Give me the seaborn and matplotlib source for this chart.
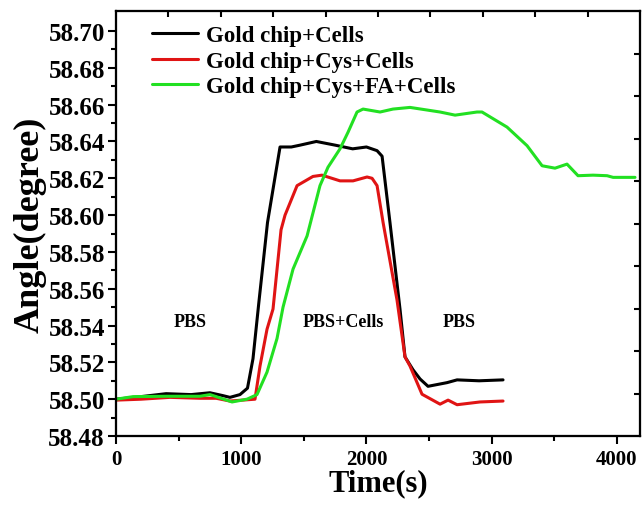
# SPR angle vs time
import pandas as pd
import matplotlib
matplotlib.use('Agg')
import matplotlib.pyplot as plt
import seaborn as sns

sns.set_style("ticks")
plt.rcParams['font.family'] = ['Liberation Serif', 'DejaVu Serif']
plt.rcParams['font.weight'] = 'bold'
for k in ['text.color', 'axes.labelcolor', 'xtick.color', 'ytick.color', 'axes.edgecolor']:
    plt.rcParams[k] = 'black'

# data
labels = ['Gold chip+Cells', 'Gold chip+Cys+Cells', 'Gold chip+Cys+FA+Cells']
colors = ['#000000', '#e01414', '#22e022']

t_black = [0, 150, 400, 600, 750, 850, 910, 990, 1050, 1094, 1140, 1210, 1310, 1400,
           1470, 1600, 1750, 1890, 2000, 2085, 2125, 2188, 2268, 2308, 2372, 2428,
           2492, 2644, 2724, 2900, 3091]
a_black = [58.500, 58.501, 58.503, 58.5025, 58.5035, 58.502, 58.501, 58.5025, 58.506,
           58.522, 58.552, 58.596, 58.637, 58.637, 58.638, 58.640, 58.638, 58.636,
           58.637, 58.635, 58.632, 58.596, 58.549, 58.523, 58.516, 58.511, 58.507,
           58.509, 58.5105, 58.510, 58.5105]

t_red = [0, 200, 431, 671, 800, 910, 1110, 1150, 1206, 1254, 1318, 1350, 1446, 1573,
         1645, 1789, 1893, 2005, 2045, 2085, 2133, 2244, 2308, 2348, 2444, 2588, 2652,
         2724, 2907, 3091]
a_red = [58.4995, 58.500, 58.501, 58.5005, 58.5005, 58.499, 58.500, 58.518, 58.538,
         58.549, 58.592, 58.600, 58.616, 58.621, 58.6217, 58.6186, 58.6186, 58.6207,
         58.620, 58.616, 58.596, 58.554, 58.523, 58.518, 58.5027, 58.4973, 58.4995,
         58.497, 58.4985, 58.499]

t_green = [0, 136, 407, 671, 751, 927, 1046, 1126, 1206, 1286, 1334, 1414, 1526, 1629,
           1693, 1789, 1853, 1925, 1973, 2109, 2212, 2348, 2588, 2708, 2883, 2923, 3123,
           3283, 3403, 3506, 3602, 3690, 3810, 3922, 3970, 4145]
a_green = [58.500, 58.5014, 58.5016, 58.5016, 58.5025, 58.4985, 58.500, 58.5025, 58.5147,
           58.533, 58.550, 58.5707, 58.5887, 58.616, 58.626, 58.636, 58.645, 58.656,
           58.6576, 58.656, 58.6576, 58.6585, 58.656, 58.6543, 58.656, 58.656, 58.6478,
           58.6377, 58.6268, 58.6255, 58.6277, 58.6214, 58.6217, 58.6214, 58.6205, 58.6205]

frames = []
for lab, t, a in zip(labels, [t_black, t_red, t_green], [a_black, a_red, a_green]):
    frames.append(pd.DataFrame({'time': t, 'angle': a, 'sample': lab}))
df = pd.concat(frames, ignore_index=True)

fig = plt.figure(figsize=(6.42, 5.10), dpi=100)
ax = fig.add_axes([0.1807, 0.1431, 0.8162, 0.8324])

sns.lineplot(data=df, x='time', y='angle', hue='sample', palette=colors,
             hue_order=labels, linewidth=2.2, sort=False, ax=ax)

ax.set_xlim(0, 4185)
ax.set_ylim(58.48, 58.7106)
ax.set_xticks([0, 1000, 2000, 3000, 4000])
ax.set_xticks([500, 1500, 2500, 3500], minor=True)
yt = [58.48 + 0.02 * i for i in range(12)]
ax.set_yticks(yt)
ax.set_yticklabels([f'{v:.2f}' for v in yt])
ax.set_yticks([58.49 + 0.02 * i for i in range(11)], minor=True)
ax.tick_params(axis='both', which='major', direction='out', length=6, width=1.5)
ax.tick_params(axis='both', which='minor', direction='out', length=3.5, width=1.5)
ax.tick_params(axis='x', which='major', labelsize=15, pad=3)
ax.tick_params(axis='y', which='major', labelsize=18, pad=2)
for lbl in ax.get_xticklabels() + ax.get_yticklabels():
    lbl.set_fontweight('bold')
for s in ax.spines.values():
    s.set_linewidth(1.5)
    s.set_visible(True)

ax.set_xlabel('Time(s)', fontsize=22, fontweight='bold', labelpad=0)
ax.set_ylabel('Angle(degree)', fontsize=26, fontweight='bold', labelpad=1)

# right and top axes: inward ticks only
axr = ax.twinx()
axr.set_ylim(0, 10)
axr.set_yticks(range(1, 10))
axr.tick_params(axis='y', direction='in', length=4, width=1.5, labelright=False)
axt = ax.twiny()
axt.set_xlim(0, 10)
axt.set_xticks(range(1, 10))
axt.tick_params(axis='x', direction='in', length=4, width=1.5, labeltop=False)
for a2 in (axr, axt):
    for s in a2.spines.values():
        s.set_linewidth(1.5)

handles, hl = ax.get_legend_handles_labels()
ax.legend(handles=handles, labels=hl, loc='upper left', bbox_to_anchor=(0.0687, 0.968),
          frameon=False, handlelength=2.0, handletextpad=0.35,
          labelspacing=0.2, borderpad=0, borderaxespad=0,
          prop={'weight': 'bold', 'size': 16.5})

ax.text(591, 58.5424, 'PBS', ha='center', va='center', fontsize=13, fontweight='bold')
ax.text(1813, 58.5424, 'PBS+Cells', ha='center', va='center', fontsize=13, fontweight='bold')
ax.text(2740, 58.5424, 'PBS', ha='center', va='center', fontsize=13, fontweight='bold')

fig.savefig('out.png', dpi=100)
